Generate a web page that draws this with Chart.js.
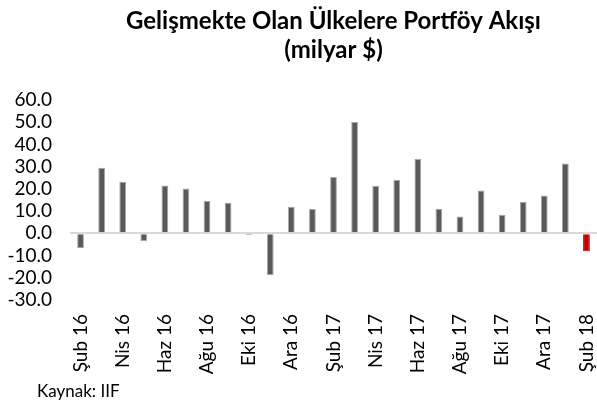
<!DOCTYPE html>
<html><head><meta charset="utf-8">
<script src="https://cdn.jsdelivr.net/npm/chart.js@4.4.0/dist/chart.umd.min.js"></script>
<style>html,body{margin:0;padding:0;background:#fff}#wrap{position:relative;width:597px;height:407px}</style>
</head><body><div id="wrap"><canvas id="c" width="597" height="407"></canvas></div>
<script>
const titleLines = ['Gelişmekte Olan Ülkelere Portföy Akışı', '(milyar $)'];
const sourceNote = 'Kaynak: IIF';
const categories = ['Şub 16','Mar 16','Nis 16','May 16','Haz 16','Tem 16','Ağu 16','Eyl 16','Eki 16','Kas 16','Ara 16','Oca 17',
  'Şub 17','Mar 17','Nis 17','May 17','Haz 17','Tem 17','Ağu 17','Eyl 17','Eki 17','Kas 17','Ara 17','Oca 18','Şub 18'];
const values = [-6.7, 29.5, 23.2, -3.4, 21.5, 20.2, 14.7, 13.8, -0.7, -18.7, 12.0, 10.9,
  25.4, 50.1, 21.4, 24.1, 33.5, 11.1, 7.6, 19.3, 8.4, 14.2, 17.0, 31.4, -8.1];
const yMin = -30, yMax = 60, yStep = 10;
const highlightIndex = values.length - 1;

const sourcePlugin = {
  id: 'sourceNote',
  afterDraw(chart) {
    const c = chart.ctx;
    c.save();
    c.font = '17px Lato';
    c.fillStyle = '#000';
    c.textBaseline = 'middle';
    c.textAlign = 'left';
    c.fillText(sourceNote, 37, 392);
    c.restore();
  }
};

const tickFont = {family: 'Lato', size: 19};
new Chart(document.getElementById('c'), {
  type: 'bar',
  data: {
    labels: categories,
    datasets: [{
      data: values,
      backgroundColor: c => c.dataIndex === highlightIndex ? '#C00000' : '#595959',
      borderColor: c => c.dataIndex === highlightIndex ? '#C00000' : '#A6A6A6',
      borderWidth: 1,
      barPercentage: 0.32,
      categoryPercentage: 1
    }]
  },
  options: {
    responsive: false,
    animation: false,
    devicePixelRatio: 1,
    layout: {padding: {left: 0, right: 0, top: 0, bottom: 30}},
    plugins: {
      legend: {display: false},
      tooltip: {enabled: false},
      title: {
        display: true, fullSize: false, text: titleLines, color: '#000',
        font: {family: 'Lato', size: 24, weight: 'bold', lineHeight: 1.2},
        padding: {top: 6.6, bottom: 35.8}
      }
    },
    scales: {
      x: {
        grid: {display: false, drawTicks: false},
        border: {display: false},
        ticks: {
          autoSkip: false, maxRotation: 90, minRotation: 90, padding: 14,
          font: {family: 'Lato', size: 19}, color: '#000',
          callback: (v, i) => i % 2 === 0 ? categories[i] : ''
        },
        afterFit: s => { s.height = 77; s.paddingLeft = 0; s.paddingRight = 0; }
      },
      y: {
        min: yMin, max: yMax,
        ticks: {stepSize: yStep, autoSkip: false, padding: 18, font: tickFont, color: '#000', callback: v => Number(v).toFixed(1)},
        grid: {drawTicks: false, color: c => (c.tick && c.tick.value === 0) ? '#D9D9D9' : 'rgba(0,0,0,0)', lineWidth: 2},
        border: {display: false},
        afterFit: s => { s.width = 70; }
      }
    }
  },
  plugins: [sourcePlugin]
});
</script>
</body></html>
